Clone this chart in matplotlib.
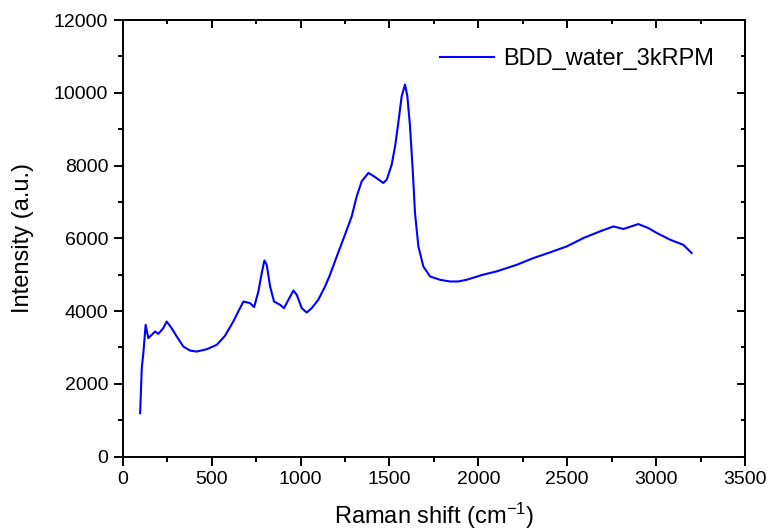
import numpy as np
import matplotlib
matplotlib.use('Agg')
import matplotlib.pyplot as plt
from matplotlib.ticker import MultipleLocator

plt.rcParams['font.family'] = ['Liberation Sans', 'DejaVu Sans']
plt.rcParams['mathtext.default'] = 'regular'

# spectrum
raman_shift = [98, 107, 116, 129, 144, 182, 200, 228, 247, 275, 304, 341, 379, 416,
               473, 529, 575, 622, 650, 679, 716, 739, 763, 782, 797, 810, 829, 851,
               885, 907, 932, 960, 979, 1007, 1035, 1063, 1100, 1138, 1166, 1204,
               1250, 1288, 1316, 1344, 1382, 1419, 1466, 1485, 1513, 1532, 1550,
               1569, 1588, 1601, 1616, 1631, 1644, 1663, 1691, 1729, 1785, 1841,
               1888, 1935, 2028, 2104, 2216, 2310, 2403, 2497, 2591, 2685, 2760,
               2816, 2900, 2957, 3004, 3079, 3153, 3200]
intensity = [1190, 2428, 2840, 3620, 3253, 3436, 3372, 3528, 3711, 3528, 3298, 3022,
             2912, 2885, 2950, 3069, 3317, 3711, 3986, 4261, 4217, 4107, 4536, 5043,
             5389, 5271, 4674, 4261, 4170, 4079, 4308, 4564, 4445, 4079, 3958, 4079,
             4308, 4674, 4996, 5500, 6097, 6600, 7150, 7564, 7795, 7685, 7520, 7610,
             8024, 8528, 9170, 9904, 10226, 9904, 9078, 7886, 6694, 5775, 5224,
             4949, 4858, 4812, 4812, 4860, 5000, 5090, 5270, 5455, 5610, 5775, 6005,
             6190, 6325, 6255, 6390, 6280, 6145, 5960, 5820, 5595]
series_name = 'BDD_water_3kRPM'

fig = plt.figure(figsize=(7.68, 5.31), dpi=100)
ax = fig.add_axes([0.1598, 0.1403, 0.8102, 0.822])

ax.plot(raman_shift, intensity, color='#0000ff', lw=1.5, label=series_name)

ax.set_xlim(0, 3500)
ax.set_ylim(0, 12000)
ax.xaxis.set_major_locator(MultipleLocator(500))
ax.xaxis.set_minor_locator(MultipleLocator(250))
ax.yaxis.set_major_locator(MultipleLocator(2000))
ax.yaxis.set_minor_locator(MultipleLocator(1000))

for s in ax.spines.values():
    s.set_linewidth(1.4)

# origin-style ticks: outward on bottom/left, inward on top/right
ax.tick_params(which='both', direction='out', width=1.4, labelsize=14, top=False, right=False)
ax.tick_params(which='major', length=6.5, pad=4)
ax.tick_params(which='minor', length=3.6)

axt = ax.secondary_xaxis('top')
axt.xaxis.set_major_locator(MultipleLocator(500))
axt.xaxis.set_minor_locator(MultipleLocator(250))
axt.tick_params(which='both', direction='in', width=1.4, labeltop=False)
axt.tick_params(which='major', length=6)
axt.tick_params(which='minor', length=3)
axt.spines['top'].set_linewidth(1.4)

axr = ax.secondary_yaxis('right')
axr.yaxis.set_major_locator(MultipleLocator(2000))
axr.yaxis.set_minor_locator(MultipleLocator(1000))
axr.tick_params(which='both', direction='in', width=1.4, labelright=False)
axr.tick_params(which='major', length=6)
axr.tick_params(which='minor', length=3)
axr.spines['right'].set_linewidth(1.4)

ax.set_xlabel('Raman shift (cm$^{-1}$)', fontsize=17, labelpad=9)
ax.set_ylabel('Intensity (a.u.)', fontsize=17, labelpad=14)

ax.legend(loc='upper right', frameon=False, fontsize=17, handlelength=2.3,
          handletextpad=0.4, bbox_to_anchor=(0.985, 0.985))

fig.savefig('out.png', dpi=100)
